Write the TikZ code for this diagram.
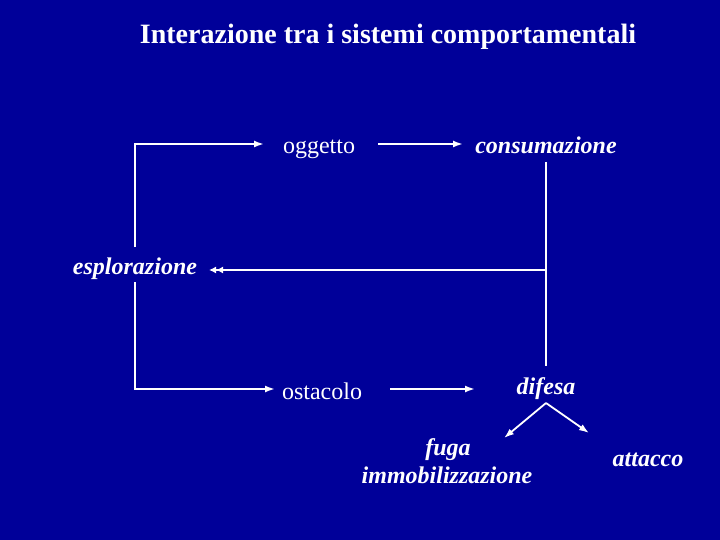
\documentclass[tikz,border=0pt]{standalone}
\usepackage{fontspec}
\setmainfont{Liberation Serif}
\usetikzlibrary{arrows.meta}
\definecolor{bg}{RGB}{0,0,153}
\tikzset{
  arr/.style={draw=white, line width=1.8pt, -{Latex[length=10pt,width=7pt]}},
  plain/.style={draw=white, line width=1.8pt},
  dbl/.style={draw=white, line width=1.8pt, {Latex[length=7pt,width=7pt] Latex[length=7pt,width=7pt]}-},
  rom/.style={text=white, font=\fontsize{24}{28}\selectfont, inner sep=0pt, anchor=base},
  bi/.style={text=white, font=\fontsize{24}{28}\selectfont\bfseries\itshape, inner sep=0pt, anchor=base},
  ttl/.style={text=white, font=\fontsize{28}{32}\selectfont\bfseries, inner sep=0pt, anchor=base}
}
\begin{document}
\begin{tikzpicture}[x=1pt,y=-1pt]
\useasboundingbox (0,0) rectangle (720,540);
\fill[bg] (0,0) rectangle (720,540);
\node[ttl] (title) at (388,44) {Interazione tra i sistemi comportamentali};
\node[rom] (ogg) at (319,154) {oggetto};
\node[bi] (cons) at (546,154) {consumazione};
\node[bi] (espl) at (135,274) {esplorazione};
\node[rom] (ost) at (322,399) {ostacolo};
\node[bi] (dif) at (546,394) {difesa};
\node[bi] (fuga) at (448,455) {fuga};
\node[bi] (immo) at (447,483) {immobilizzazione};
\node[bi] (att) at (648,466) {attacco};
% coordinates for connector ends
\coordinate (tl1) at (135,247);
\coordinate (tl2) at (135,144);
\coordinate (tl3) at (264,144);
\coordinate (bl1) at (135,282);
\coordinate (bl2) at (135,389);
\coordinate (bl3) at (275,389);
\coordinate (oa) at (378,144);
\coordinate (ob) at (463,144);
\coordinate (sa) at (390,389);
\coordinate (sb) at (475,389);
\coordinate (ct) at (546,162);
\coordinate (cm) at (546,270);
\coordinate (cb) at (546,366);
\coordinate (ea) at (209,270);
\coordinate (apex) at (546,403);
\coordinate (fl) at (504,438);
\coordinate (fr) at (589,433);
% connectors
\draw[arr] (tl1) -- (tl2) -- (tl3);
\draw[arr] (bl1) -- (bl2) -- (bl3);
\draw[arr] (oa) -- (ob);
\draw[arr] (sa) -- (sb);
\draw[plain] (ct) -- (cb);
\draw[dbl] (ea) -- (cm);
\draw[arr] (apex) -- (fl);
\draw[arr] (apex) -- (fr);
\end{tikzpicture}
\end{document}
